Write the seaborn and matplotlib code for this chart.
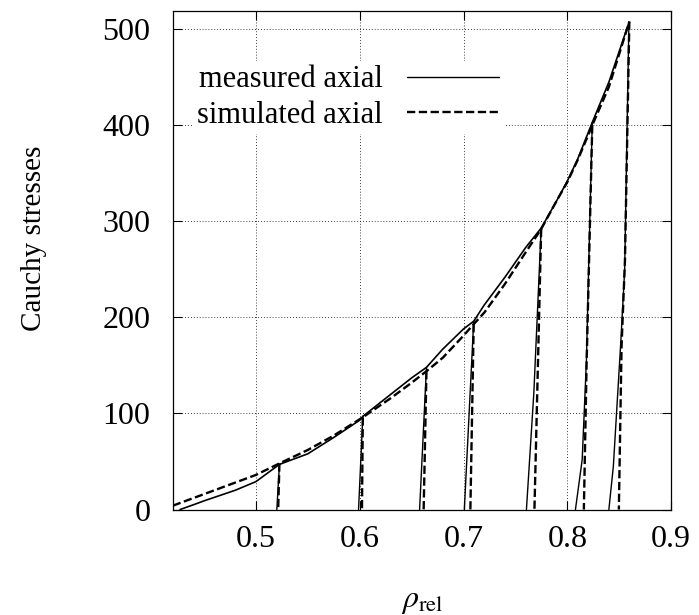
import seaborn as sns
import matplotlib.pyplot as plt
import pandas as pd

# measured axial: loading envelope (rho_rel, Cauchy stress)
meas_rho = [0.427, 0.44, 0.45, 0.48, 0.50, 0.5227, 0.55, 0.575, 0.60, 0.603, 0.63, 0.65,
            0.6643, 0.68, 0.70, 0.7098, 0.72, 0.74, 0.76, 0.7748, 0.79, 0.80, 0.81, 0.824,
            0.84, 0.8593]
meas_sig = [0, 5, 9, 20, 29, 47, 58, 75, 93, 97, 120, 137,
            148, 167, 188, 196, 213, 242, 273, 293, 322, 342, 365, 403,
            445, 507]

# measured axial: unloading branches
meas_unload_rho = [[0.5227, 0.5202],
                   [0.603, 0.5989],
                   [0.6643, 0.6577],
                   [0.7098, 0.7008],
                   [0.7748, 0.7677, 0.7606],
                   [0.824, 0.8207, 0.8184, 0.8143, 0.8078],
                   [0.8593, 0.8552, 0.8513, 0.8443, 0.840]]
meas_unload_sig = [[47, 0],
                   [97, 0],
                   [148, 0],
                   [196, 0],
                   [293, 121, 0],
                   [403, 260, 156, 52, 0],
                   [507, 249, 171, 45, 0]]

# simulated axial: loading envelope
sim_rho = [0.42, 0.45, 0.48, 0.50, 0.5227, 0.55, 0.575, 0.60, 0.603, 0.63, 0.65, 0.6643,
           0.68, 0.70, 0.7098, 0.72, 0.74, 0.76, 0.7748, 0.79, 0.80, 0.81, 0.824, 0.84,
           0.8597]
sim_sig = [4, 16, 28, 36, 48, 62, 77, 94, 96, 116, 132, 144,
           158, 181, 193, 205, 235, 268, 292, 322, 341, 364, 400, 440,
           508]

# simulated axial: unloading branches
sim_unload_rho = [[0.5227, 0.5215],
                  [0.603, 0.6022],
                  [0.6643, 0.6616],
                  [0.7098, 0.7066],
                  [0.7748, 0.7683],
                  [0.824, 0.8185, 0.8159],
                  [0.8597, 0.8555, 0.8522, 0.8496]]
sim_unload_sig = [[48, 0],
                  [96, 0],
                  [144, 0],
                  [193, 0],
                  [292, 0],
                  [400, 150, 0],
                  [508, 260, 170, 0]]


def branches_df(rho_lists, sig_lists):
    rows = []
    for k, (rs, ss) in enumerate(zip(rho_lists, sig_lists)):
        for r, s in zip(rs, ss):
            rows.append({"rho": r, "sig": s, "branch": k})
    return pd.DataFrame(rows)


sns.set_style("ticks")
plt.rcParams['font.family'] = ['Liberation Serif', 'DejaVu Serif']
plt.rcParams['mathtext.fontset'] = 'stix'
for key in ['text.color', 'axes.labelcolor', 'xtick.color', 'ytick.color']:
    plt.rcParams[key] = 'black'

fig = plt.figure(figsize=(6.99, 6.15), dpi=100)
ax = fig.add_axes([0.2472, 0.1715, 0.7130, 0.8106])

dash = (3.5, 1.5)

# measured
sns.lineplot(x=meas_rho, y=meas_sig, sort=False, color='black', lw=1.2,
             label='measured axial', ax=ax)
sns.lineplot(data=branches_df(meas_unload_rho, meas_unload_sig), x='rho', y='sig',
             units='branch', estimator=None, sort=False, color='black', lw=1.0,
             legend=False, ax=ax)

# simulated
sns.lineplot(x=sim_rho, y=sim_sig, sort=False, color='black', lw=1.7,
             label='simulated axial', ax=ax)
sim_line = ax.lines[-1]
sim_line.set_dashes(dash)
n_before = len(ax.lines)
sns.lineplot(data=branches_df(sim_unload_rho, sim_unload_sig), x='rho', y='sig',
             units='branch', estimator=None, sort=False, color='black', lw=1.7,
             legend=False, ax=ax)
for ln in ax.lines[n_before:]:
    ln.set_dashes(dash)

ax.set_xlim(0.42, 0.9)
ax.set_ylim(0, 519)
ax.set_xticks([0.5, 0.6, 0.7, 0.8, 0.9])
ax.set_xticklabels(['0.5', '0.6', '0.7', '0.8', '0.9'])
ax.set_yticks([0, 100, 200, 300, 400, 500])

ax.grid(True, color='black', linestyle=(0, (1, 2.5)), linewidth=0.6)
ax.tick_params(direction='in', top=True, right=True, length=6.5, width=0.8,
               labelsize=23, colors='black')
ax.tick_params(axis='y', pad=16)
ax.tick_params(axis='x', pad=11)
for sp in ax.spines.values():
    sp.set_linewidth(0.9)
    sp.set_color('black')

ax.set_xlabel(r'$\rho_{\rm rel}$', fontsize=23)
ax.xaxis.set_label_coords(0.5, -0.155)
ax.set_ylabel('Cauchy stresses', fontsize=21)
ax.yaxis.set_label_coords(-0.252, 0.545)

handles = [ax.lines[0], sim_line]
leg = ax.legend(handles, ['measured axial', 'simulated axial'], loc='upper left',
                bbox_to_anchor=(0.04, 0.9), markerfirst=False, frameon=True,
                facecolor='white', edgecolor='none', framealpha=1, fancybox=False,
                fontsize=22, handlelength=3.0, handletextpad=0.8, labelspacing=0.2,
                borderpad=0.15, borderaxespad=0)
leg.get_lines()[0].set_linewidth(1.0)

fig.savefig('out.png', dpi=100)
